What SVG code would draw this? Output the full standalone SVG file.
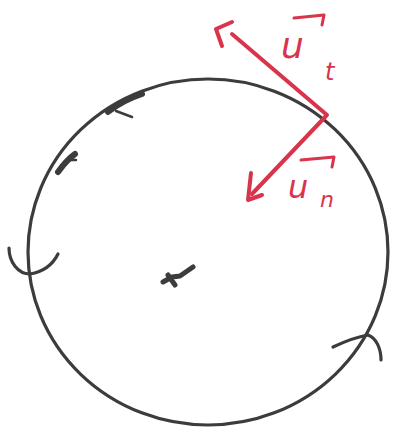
<svg xmlns="http://www.w3.org/2000/svg" width="394" height="435" viewBox="0 0 394 435">
<style>
.ink{fill:none;stroke:#3c3c3c;stroke-width:3.2;stroke-linecap:round;stroke-linejoin:round}
.red{fill:none;stroke:#d8344c;stroke-width:4;stroke-linecap:round;stroke-linejoin:round}
.lbl{fill:#d8344c;font-family:"DejaVu Sans",sans-serif;font-style:italic}
</style>
<rect width="394" height="435" fill="#ffffff"/>
<g id="circle">
<ellipse class="ink" cx="208" cy="252" rx="180" ry="173"/>
<path class="ink" d="M108 112 C118 104 130 98 142 94" style="stroke-width:6"/>
<path class="ink" d="M116 111 L132 117" style="stroke-width:2.5"/>
<path class="ink" d="M58 172 C63 165 68 159 75 154" style="stroke-width:6"/>
<path class="ink" d="M68 160 L76 160" style="stroke-width:2.5"/>
<path class="ink" d="M9 248 C9 262 18 274 30 274 C42 272 52 266 58 254"/>
<path class="ink" d="M333 347 C348 340 362 336 368 335 C376 338 381 348 381 360"/>
<path class="ink" d="M163 282 L172 277 L180 276 L193 267 M168 275 L175 285" style="stroke-width:5"/>
</g>
<g id="tangent">
<path class="red" d="M327 115 L232 34"/>
<path class="red" d="M222 46 L216 29 L232 22"/>
<text class="lbl" x="281" y="58" font-size="36">u</text>
<text class="lbl" x="325" y="80" font-size="24">t</text>
<path class="red" d="M294 18 L324 15 L322 25" style="stroke-width:3"/>
</g>
<g id="normal">
<path class="red" d="M326 116 L252 194"/>
<path class="red" d="M251 173 L248 200 L262 195"/>
<text class="lbl" x="288" y="198" font-size="32">u</text>
<text class="lbl" x="320" y="207" font-size="22">n</text>
<path class="red" d="M301 160 L334 157 L332 167" style="stroke-width:3"/>
</g>
</svg>
